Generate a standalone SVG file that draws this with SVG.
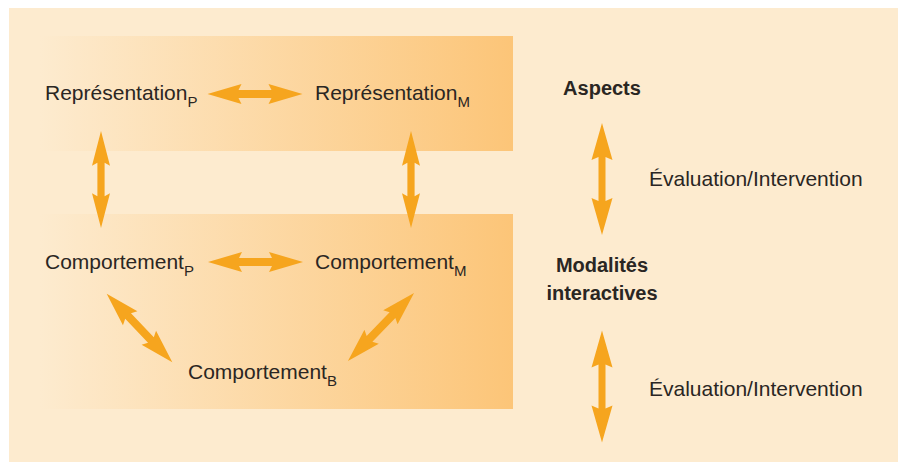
<svg xmlns="http://www.w3.org/2000/svg" width="898" height="462" viewBox="0 0 898 462">
<defs>
<style>
.t{font-family:"Liberation Sans",Arial,sans-serif;font-size:21px;fill:#2a2623}
.s{font-size:15px}
.b{font-family:"Liberation Sans",Arial,sans-serif;font-size:20px;font-weight:bold;fill:#2a2623;text-anchor:middle}
.a{fill:#F6A51E}
</style>
<linearGradient id="g" x1="0" y1="0" x2="1" y2="0">
<stop offset="0" stop-color="#FDEBCF"/>
<stop offset="1" stop-color="#FCC578"/>
</linearGradient>
<path id="arr" d="M-47.5,0 L-13.5,-10 L-16.5,-4 L16.5,-4 L13.5,-10 L47.5,0 L13.5,10 L16.5,4 L-16.5,4 L-13.5,10 Z"/>
<path id="arrL" d="M-56,0 L-19,-10.5 L-22,-3.5 L22,-3.5 L19,-10.5 L56,0 L19,10.5 L22,3.5 L-22,3.5 L-19,10.5 Z"/>
</defs>
<rect x="0" y="0" width="898" height="462" fill="#ffffff"/>
<rect x="9" y="8" width="889" height="454" fill="#FDEBCF"/>
<rect x="40" y="36" width="473" height="115" fill="url(#g)"/>
<rect x="40" y="214" width="473" height="195" fill="url(#g)"/>
<g id="connectors">
<use href="#arr" class="a" transform="translate(255,94)"/>
<use href="#arr" class="a" transform="translate(255.5,262)"/>
<use href="#arr" class="a" transform="translate(101,179.5) rotate(90) scale(1.02,0.9)"/>
<use href="#arr" class="a" transform="translate(411,179.5) rotate(90) scale(1.02,0.9)"/>
<use href="#arr" class="a" transform="translate(139.5,328) rotate(46.3)"/>
<use href="#arr" class="a" transform="translate(381,327) rotate(134.1)"/>
<use href="#arrL" class="a" transform="translate(602,179) rotate(90)"/>
<use href="#arrL" class="a" transform="translate(602,386.5) rotate(90)"/>
</g>
<g id="repP"><text class="t" x="45" y="100">Représentation<tspan class="s" dy="7">P</tspan></text></g>
<g id="repM"><text class="t" x="315" y="100">Représentation<tspan class="s" dy="7">M</tspan></text></g>
<g id="compP"><text class="t" x="45" y="269">Comportement<tspan class="s" dy="7">P</tspan></text></g>
<g id="compM"><text class="t" x="315" y="269">Comportement<tspan class="s" dy="7">M</tspan></text></g>
<g id="compB"><text class="t" x="188" y="379">Comportement<tspan class="s" dy="7">B</tspan></text></g>
<g id="aspects"><text class="b" x="602" y="95">Aspects</text></g>
<g id="modalites"><text class="b" x="602" y="272">Modalités</text><text class="b" x="602" y="300">interactives</text></g>
<g id="eval1"><text class="t" x="649" y="186">Évaluation/Intervention</text></g>
<g id="eval2"><text class="t" x="649" y="396">Évaluation/Intervention</text></g>
</svg>
